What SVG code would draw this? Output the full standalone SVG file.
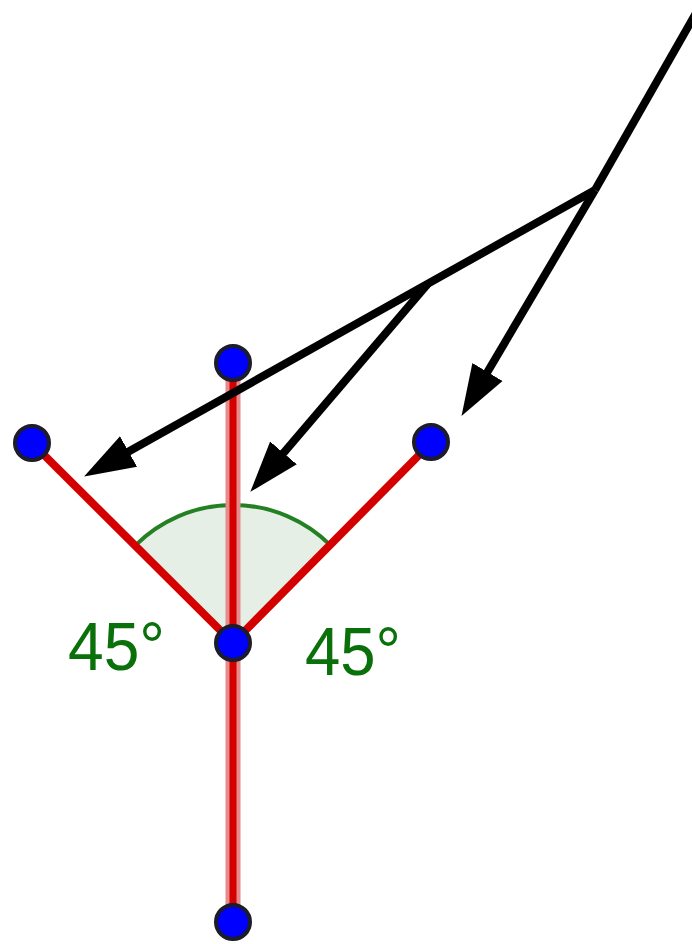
<svg xmlns="http://www.w3.org/2000/svg" width="692" height="944" viewBox="0 0 692 944">
<defs>
<marker id="ah" markerUnits="userSpaceOnUse" markerWidth="54" markerHeight="42" viewBox="0 -21 54 42" refX="30" refY="0" orient="auto">
<path d="M0,-17.5 L51,0 L0,17.5 z" fill="#000"/>
</marker>
</defs>
<style>
.seg-pink{stroke:#e68a8a;stroke-width:15;fill:none}
.seg{stroke:#d40000;stroke-width:7;fill:none}
.diag{stroke:#d40000;stroke-width:8;fill:none}
.arr{stroke:#000;stroke-width:8;fill:none}
.pt{fill:#0000ff;stroke:#1c1c2a;stroke-width:4}
.lbl{font-family:"Liberation Sans",Arial,sans-serif;font-size:69px;fill:#0a700a}
</style>
<rect width="692" height="944" fill="#fff"/>
<g id="angle">
<path d="M233,643 L135.4,545.4 A138,138 0 0 1 330.6,545.4 Z" fill="#e6efe6" stroke="none"/>
<path d="M135.4,545.4 A138,138 0 0 1 330.6,545.4" fill="none" stroke="#238023" stroke-width="4"/>
</g>
<g id="segments">
<line class="seg-pink" x1="233" y1="363" x2="233" y2="922"/>
<line class="seg" x1="233" y1="363" x2="233" y2="922"/>
<line class="diag" x1="32" y1="443" x2="233" y2="643"/>
<line class="diag" x1="432" y1="442" x2="233" y2="643"/>
</g>
<g id="connectors">
<path class="arr" d="M700,6 L595,190"/>
<path class="arr" d="M595,190 L102.4,466.2" marker-end="url(#ah)"/>
<path class="arr" d="M428,283.6 L264,475.8" marker-end="url(#ah)"/>
<path class="arr" d="M595,190 L472.2,397.8" marker-end="url(#ah)"/>
</g>
<g id="labels">
<text class="lbl" x="68" y="670" textLength="97" lengthAdjust="spacingAndGlyphs">45°</text>
<text class="lbl" x="305" y="675" textLength="96" lengthAdjust="spacingAndGlyphs">45°</text>
</g>
<g id="p-top"><circle class="pt" cx="233" cy="363" r="17"/></g>
<g id="p-left"><circle class="pt" cx="32" cy="443" r="17"/></g>
<g id="p-right"><circle class="pt" cx="431" cy="442" r="17"/></g>
<g id="p-center"><circle class="pt" cx="233" cy="643" r="17"/></g>
<g id="p-bottom"><circle class="pt" cx="233" cy="922" r="17"/></g>
</svg>
